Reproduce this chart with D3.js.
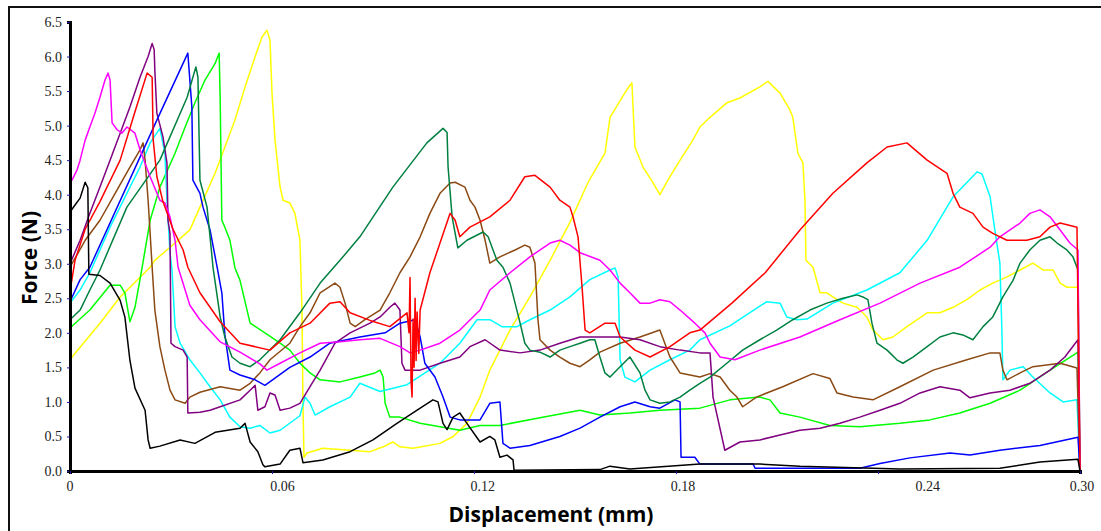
<!DOCTYPE html>
<html>
<head>
<meta charset="utf-8">
<script src="https://cdn.jsdelivr.net/npm/d3@7"></script>
<style>
  body { margin: 0; background: #fff; }
  svg { display: block; }
</style>
</head>
<body>
<svg width="1101" height="531"></svg>
<script>
// force (N) vs displacement (mm)
var blackData = [[0,3.75],[0.0015,3.85],[0.0030,3.95],[0.0045,4.18],[0.0053,4.1],[0.0056,2.85],[0.0089,2.83],[0.0119,2.72],[0.0149,2.47],[0.0163,2.23],[0.0178,1.6],[0.0193,1.2],[0.0223,0.88],[0.0232,0.45],[0.0238,0.33],[0.0267,0.36],[0.0327,0.45],[0.0371,0.4],[0.0431,0.56],[0.0505,0.62],[0.0520,0.69],[0.0535,0.42],[0.0558,0.28],[0.0573,0.09],[0.0579,0.06],[0.0624,0.1],[0.0653,0.3],[0.0683,0.33],[0.0692,0.12],[0.0751,0.16],[0.0832,0.28],[0.0900,0.45],[0.0971,0.69],[0.1031,0.88],[0.1078,1.03],[0.1093,1.0],[0.1108,0.69],[0.1120,0.6],[0.1138,0.78],[0.1158,0.84],[0.1179,0.69],[0.1218,0.42],[0.1247,0.5],[0.1262,0.45],[0.1277,0.2],[0.1298,0.23],[0.1316,0.16],[0.1319,0.01],[0.1574,0.02],[0.1604,0.07],[0.1663,0.03],[0.1871,0.1],[0.2049,0.1],[0.2168,0.07],[0.2465,0.03],[0.2762,0.04],[0.2881,0.13],[0.2994,0.17],[0.3,0]];

var redData = [[0,2.6],[0.0015,3.05],[0.0045,3.5],[0.0089,3.9],[0.0149,4.5],[0.0193,5.2],[0.0229,5.76],[0.0244,5.7],[0.0247,4.8],[0.0258,4.26],[0.0276,3.9],[0.0306,3.5],[0.0336,3.2],[0.0350,2.95],[0.0386,2.58],[0.0446,2.16],[0.0505,1.85],[0.0594,1.75],[0.0653,2.0],[0.0713,2.14],[0.0772,2.43],[0.0802,2.45],[0.0832,2.29],[0.0891,2.18],[0.0950,2.09],[0.1001,2.29],[0.1007,2.0],[0.1010,2.8],[0.1013,1.3],[0.1016,1.07],[0.1019,2.2],[0.1022,1.5],[0.1025,2.5],[0.1028,1.6],[0.1031,2.3],[0.1036,1.7],[0.1040,2.33],[0.1069,2.87],[0.1099,3.3],[0.1129,3.73],[0.1144,3.63],[0.1158,3.39],[0.1188,3.53],[0.1247,3.68],[0.1307,3.92],[0.1351,4.26],[0.1381,4.28],[0.1426,4.11],[0.1455,3.92],[0.1485,3.82],[0.1494,3.68],[0.1509,3.39],[0.1521,2.66],[0.1530,2.04],[0.1544,2.0],[0.1589,2.14],[0.1619,2.14],[0.1634,1.94],[0.1678,1.75],[0.1723,1.65],[0.1782,1.8],[0.1841,2.0],[0.1871,2.04],[0.1966,2.43],[0.2065,2.87],[0.2168,3.49],[0.2266,4.02],[0.2367,4.46],[0.2427,4.69],[0.2486,4.75],[0.2546,4.5],[0.2605,4.31],[0.2623,4.02],[0.2643,3.82],[0.2682,3.73],[0.2712,3.53],[0.2741,3.44],[0.2783,3.34],[0.2842,3.34],[0.2881,3.39],[0.2911,3.53],[0.2941,3.59],[0.2991,3.53],[0.3,0]];

var blueData = [[0,2.45],[0.0030,2.77],[0.0059,2.95],[0.0258,5.08],[0.0350,6.05],[0.0362,5.27],[0.0365,4.21],[0.0386,4.02],[0.0395,3.82],[0.0416,3.49],[0.0437,2.95],[0.0451,2.58],[0.0460,1.97],[0.0475,1.46],[0.0505,1.39],[0.0550,1.32],[0.0579,1.24],[0.0653,1.5],[0.0713,1.65],[0.0772,1.85],[0.0861,1.94],[0.0936,2.0],[0.0980,2.14],[0.1025,2.19],[0.1040,1.94],[0.1054,1.56],[0.1084,1.36],[0.1108,1.07],[0.1129,0.78],[0.1158,0.74],[0.1218,0.74],[0.1247,0.98],[0.1277,1.0],[0.1286,0.4],[0.1307,0.33],[0.1366,0.37],[0.1455,0.5],[0.1515,0.62],[0.1574,0.78],[0.1634,0.93],[0.1678,1.0],[0.1723,0.93],[0.1752,0.91],[0.1797,1.03],[0.1812,1.0],[0.1815,0.2],[0.1856,0.2],[0.1871,0.1],[0.2029,0.1],[0.2035,0.04],[0.2346,0.04],[0.2406,0.11],[0.2495,0.19],[0.2614,0.26],[0.2673,0.23],[0.2762,0.3],[0.2881,0.37],[0.2994,0.49],[0.3,0]];

var limeData = [[0,2.07],[0.0059,2.33],[0.0119,2.69],[0.0149,2.69],[0.0163,2.58],[0.0178,2.16],[0.0193,2.37],[0.0214,2.94],[0.0238,3.63],[0.0267,4.11],[0.0312,4.6],[0.0342,4.98],[0.0371,5.33],[0.0401,5.66],[0.0431,5.9],[0.0443,6.05],[0.0446,5.41],[0.0451,3.63],[0.0460,3.53],[0.0475,3.34],[0.0490,2.94],[0.0505,2.76],[0.0535,2.14],[0.0579,2.0],[0.0624,1.85],[0.0653,1.75],[0.0683,1.56],[0.0713,1.42],[0.0743,1.32],[0.0802,1.29],[0.0861,1.36],[0.0906,1.42],[0.0921,1.46],[0.0930,1.36],[0.0936,0.98],[0.0950,0.78],[0.0980,0.78],[0.1040,0.69],[0.1099,0.64],[0.1158,0.59],[0.1218,0.66],[0.1277,0.66],[0.1396,0.77],[0.1515,0.88],[0.1574,0.81],[0.1663,0.84],[0.1752,0.88],[0.1871,0.91],[0.1960,1.03],[0.2049,1.07],[0.2079,1.03],[0.2109,0.84],[0.2168,0.78],[0.2257,0.66],[0.2346,0.64],[0.2465,0.69],[0.2554,0.74],[0.2643,0.84],[0.2733,0.98],[0.2822,1.17],[0.2911,1.46],[0.2994,1.72],[0.3,0]];

var yellowData = [[0,1.6],[0.0006,1.65],[0.0089,2.14],[0.0149,2.52],[0.0238,2.95],[0.0252,3.05],[0.0312,3.3],[0.0356,3.49],[0.0386,3.82],[0.0431,4.31],[0.0460,4.69],[0.0490,5.08],[0.0520,5.56],[0.0550,6.0],[0.0570,6.28],[0.0585,6.38],[0.0594,6.24],[0.0600,5.47],[0.0609,4.79],[0.0624,4.11],[0.0633,3.92],[0.0653,3.88],[0.0668,3.73],[0.0683,3.34],[0.0689,2.33],[0.0692,0.98],[0.0695,0.2],[0.0704,0.26],[0.0751,0.33],[0.0832,0.3],[0.0891,0.28],[0.0930,0.35],[0.0959,0.42],[0.0980,0.35],[0.1019,0.33],[0.1099,0.4],[0.1138,0.5],[0.1179,0.69],[0.1218,1.07],[0.1247,1.46],[0.1307,2.04],[0.1366,2.52],[0.1426,3.05],[0.1485,3.6],[0.1538,4.17],[0.1589,4.6],[0.1604,5.12],[0.1654,5.52],[0.1669,5.62],[0.1678,4.69],[0.1702,4.4],[0.1732,4.17],[0.1752,4.0],[0.1782,4.26],[0.1812,4.5],[0.1850,4.79],[0.1871,4.98],[0.1901,5.12],[0.1951,5.33],[0.1990,5.4],[0.2049,5.56],[0.2073,5.64],[0.2109,5.47],[0.2138,5.23],[0.2147,5.12],[0.2162,4.6],[0.2177,4.46],[0.2183,3.92],[0.2186,3.05],[0.2207,2.95],[0.2228,2.58],[0.2248,2.58],[0.2266,2.52],[0.2296,2.43],[0.2338,2.37],[0.2367,2.23],[0.2385,2.04],[0.2415,1.9],[0.2444,1.94],[0.2486,2.09],[0.2546,2.29],[0.2584,2.29],[0.2623,2.37],[0.2664,2.48],[0.2703,2.62],[0.2741,2.72],[0.2783,2.81],[0.2822,2.91],[0.2860,3.01],[0.2890,2.91],[0.2920,2.91],[0.2941,2.72],[0.2961,2.66],[0.2994,2.66],[0.3,0]];

var magentaData = [[0,4.2],[0.0006,4.21],[0.0021,4.36],[0.0030,4.5],[0.0045,4.79],[0.0059,4.98],[0.0074,5.18],[0.0089,5.41],[0.0104,5.66],[0.0113,5.76],[0.0119,5.66],[0.0125,5.04],[0.0140,4.94],[0.0154,4.89],[0.0169,4.98],[0.0193,4.89],[0.0208,4.65],[0.0238,4.26],[0.0267,3.92],[0.0282,3.88],[0.0297,3.68],[0.0312,3.34],[0.0321,2.95],[0.0342,2.62],[0.0356,2.4],[0.0386,2.19],[0.0446,1.87],[0.0505,1.72],[0.0564,1.55],[0.0585,1.46],[0.0624,1.56],[0.0683,1.71],[0.0743,1.85],[0.0802,1.87],[0.0861,1.9],[0.0921,1.92],[0.0980,1.8],[0.1010,1.71],[0.1040,1.75],[0.1099,1.85],[0.1158,2.04],[0.1218,2.33],[0.1247,2.62],[0.1307,2.87],[0.1366,3.1],[0.1426,3.3],[0.1455,3.34],[0.1485,3.27],[0.1515,3.16],[0.1574,3.05],[0.1604,2.91],[0.1634,2.72],[0.1663,2.58],[0.1693,2.43],[0.1723,2.43],[0.1752,2.48],[0.1782,2.45],[0.1812,2.33],[0.1856,2.14],[0.1886,2.0],[0.1901,1.85],[0.1931,1.65],[0.1975,1.61],[0.2049,1.75],[0.2168,1.94],[0.2287,2.19],[0.2406,2.43],[0.2525,2.72],[0.2643,2.95],[0.2733,3.24],[0.2762,3.39],[0.2822,3.59],[0.2851,3.73],[0.2881,3.78],[0.2911,3.68],[0.2941,3.49],[0.2970,3.3],[0.2994,3.2],[0.3,0]];

var cyanData = [[0,2.43],[0.0030,2.62],[0.0059,2.87],[0.0119,3.53],[0.0178,4.11],[0.0208,4.4],[0.0238,4.75],[0.0267,4.96],[0.0282,4.6],[0.0288,3.92],[0.0297,3.16],[0.0303,2.91],[0.0312,2.09],[0.0327,1.85],[0.0356,1.61],[0.0386,1.42],[0.0416,1.22],[0.0446,1.03],[0.0475,0.78],[0.0505,0.64],[0.0535,0.62],[0.0564,0.66],[0.0594,0.55],[0.0624,0.59],[0.0683,0.8],[0.0698,1.07],[0.0713,0.98],[0.0728,0.81],[0.0772,0.93],[0.0832,1.07],[0.0861,1.27],[0.0921,1.15],[0.1001,1.25],[0.1099,1.56],[0.1158,1.85],[0.1209,2.19],[0.1247,2.19],[0.1283,2.09],[0.1328,2.09],[0.1366,2.19],[0.1426,2.33],[0.1485,2.52],[0.1544,2.77],[0.1604,2.91],[0.1619,2.94],[0.1628,2.81],[0.1634,1.61],[0.1648,1.36],[0.1678,1.29],[0.1723,1.46],[0.1782,1.61],[0.1841,1.75],[0.1871,1.9],[0.1960,2.1],[0.2069,2.45],[0.2109,2.43],[0.2129,2.23],[0.2159,2.19],[0.2189,2.2],[0.2266,2.43],[0.2367,2.62],[0.2465,2.87],[0.2546,3.34],[0.2623,3.97],[0.2694,4.33],[0.2709,4.3],[0.2733,3.97],[0.2747,3.49],[0.2762,3.01],[0.2768,2.04],[0.2771,1.32],[0.2792,1.46],[0.2831,1.51],[0.2860,1.36],[0.2911,1.13],[0.2950,1.0],[0.2991,1.03],[0.3,0]];

var purpleData = [[0,3.0],[0.0030,3.34],[0.0059,3.73],[0.0089,4.11],[0.0119,4.5],[0.0149,4.89],[0.0178,5.27],[0.0208,5.7],[0.0232,6.0],[0.0244,6.19],[0.0250,6.1],[0.0252,5.8],[0.0258,5.18],[0.0276,4.84],[0.0288,4.46],[0.0291,3.63],[0.0297,3.44],[0.0300,1.85],[0.0312,1.8],[0.0336,1.75],[0.0348,1.65],[0.0350,0.84],[0.0386,0.85],[0.0416,0.88],[0.0446,0.93],[0.0505,1.03],[0.0535,1.17],[0.0550,1.24],[0.0558,0.88],[0.0579,0.93],[0.0594,1.13],[0.0609,1.1],[0.0624,0.88],[0.0653,0.91],[0.0683,0.98],[0.0713,1.22],[0.0743,1.46],[0.0787,1.85],[0.0832,2.0],[0.0891,2.14],[0.0921,2.23],[0.0950,2.37],[0.0965,2.43],[0.0980,2.33],[0.0986,1.56],[0.0995,1.46],[0.1040,1.46],[0.1099,1.56],[0.1158,1.65],[0.1188,1.8],[0.1233,1.9],[0.1277,1.75],[0.1337,1.71],[0.1396,1.75],[0.1455,1.85],[0.1515,1.94],[0.1574,1.94],[0.1634,1.94],[0.1693,1.9],[0.1752,1.8],[0.1812,1.75],[0.1871,1.71],[0.1901,1.71],[0.1910,1.07],[0.1945,0.3],[0.1990,0.42],[0.2049,0.45],[0.2109,0.52],[0.2168,0.59],[0.2228,0.62],[0.2287,0.69],[0.2346,0.78],[0.2406,0.88],[0.2465,0.98],[0.2525,1.13],[0.2584,1.22],[0.2643,1.17],[0.2673,1.06],[0.2733,1.13],[0.2792,1.17],[0.2851,1.27],[0.2911,1.46],[0.2955,1.65],[0.2994,1.9],[0.3,0]];

var brownData = [[0,2.95],[0.0045,3.34],[0.0089,3.63],[0.0134,4.02],[0.0178,4.4],[0.0208,4.65],[0.0217,4.75],[0.0223,4.5],[0.0232,3.92],[0.0238,3.44],[0.0244,2.95],[0.0252,2.33],[0.0267,1.8],[0.0282,1.46],[0.0297,1.17],[0.0312,1.03],[0.0342,0.98],[0.0356,1.07],[0.0386,1.14],[0.0446,1.22],[0.0505,1.17],[0.0535,1.27],[0.0564,1.42],[0.0594,1.61],[0.0653,1.85],[0.0683,2.09],[0.0713,2.29],[0.0743,2.58],[0.0787,2.72],[0.0802,2.66],[0.0817,2.43],[0.0832,2.14],[0.0847,2.09],[0.0876,2.19],[0.0921,2.33],[0.0950,2.58],[0.0980,2.87],[0.1010,3.1],[0.1040,3.39],[0.1069,3.73],[0.1099,4.02],[0.1129,4.17],[0.1144,4.18],[0.1173,4.11],[0.1188,3.92],[0.1203,3.82],[0.1218,3.63],[0.1233,3.34],[0.1247,3.01],[0.1277,3.1],[0.1322,3.2],[0.1351,3.27],[0.1366,3.24],[0.1381,3.01],[0.1390,2.19],[0.1396,1.9],[0.1426,1.75],[0.1455,1.65],[0.1485,1.56],[0.1515,1.51],[0.1544,1.61],[0.1574,1.72],[0.1634,1.85],[0.1693,1.94],[0.1752,2.04],[0.1782,1.65],[0.1812,1.42],[0.1871,1.36],[0.1901,1.41],[0.1931,1.36],[0.1960,1.17],[0.1981,1.07],[0.1998,0.93],[0.2039,1.07],[0.2117,1.22],[0.2207,1.41],[0.2257,1.34],[0.2278,1.13],[0.2326,1.07],[0.2385,1.03],[0.2465,1.22],[0.2564,1.46],[0.2664,1.61],[0.2733,1.71],[0.2762,1.71],[0.2771,1.46],[0.2783,1.32],[0.2822,1.42],[0.2860,1.51],[0.2941,1.56],[0.2991,1.49],[0.3,0]];

var darkGreenData = [[0,2.19],[0.0030,2.33],[0.0059,2.62],[0.0089,2.91],[0.0169,3.82],[0.0267,4.5],[0.0348,5.41],[0.0365,5.7],[0.0374,5.85],[0.0380,5.7],[0.0386,4.21],[0.0407,3.82],[0.0416,3.39],[0.0425,2.94],[0.0446,2.23],[0.0460,1.94],[0.0481,1.65],[0.0505,1.56],[0.0535,1.51],[0.0564,1.61],[0.0624,1.9],[0.0683,2.29],[0.0743,2.72],[0.0802,3.05],[0.0861,3.39],[0.0959,4.11],[0.1060,4.75],[0.1108,4.96],[0.1120,4.9],[0.1123,4.4],[0.1135,3.68],[0.1152,3.23],[0.1179,3.34],[0.1227,3.46],[0.1242,3.39],[0.1268,3.05],[0.1286,2.95],[0.1307,2.72],[0.1322,2.43],[0.1337,2.14],[0.1351,1.85],[0.1366,1.75],[0.1396,1.72],[0.1426,1.65],[0.1455,1.75],[0.1485,1.8],[0.1515,1.85],[0.1544,1.9],[0.1559,1.9],[0.1574,1.65],[0.1589,1.42],[0.1604,1.36],[0.1634,1.51],[0.1663,1.65],[0.1693,1.42],[0.1708,1.17],[0.1723,1.03],[0.1752,0.98],[0.1782,1.0],[0.1812,1.07],[0.1841,1.17],[0.1871,1.27],[0.1901,1.36],[0.1951,1.56],[0.1998,1.75],[0.2049,1.9],[0.2099,2.04],[0.2147,2.19],[0.2198,2.33],[0.2248,2.43],[0.2296,2.5],[0.2338,2.55],[0.2355,2.52],[0.2370,2.48],[0.2382,2.14],[0.2397,1.85],[0.2427,1.75],[0.2456,1.61],[0.2474,1.56],[0.2504,1.65],[0.2546,1.8],[0.2584,1.94],[0.2623,2.0],[0.2652,1.97],[0.2682,1.9],[0.2712,2.09],[0.2741,2.23],[0.2771,2.52],[0.2801,2.76],[0.2822,3.01],[0.2851,3.2],[0.2881,3.34],[0.2911,3.39],[0.2932,3.3],[0.2961,3.2],[0.2979,3.1],[0.2994,2.91],[0.3,0]];

var seriesData = [yellowData, limeData, cyanData, brownData, purpleData, blueData, darkGreenData, magentaData, redData, blackData];
var seriesColors = ["#ffff00", "#00ff00", "#00ffff", "#8b4a14", "#800080", "#0000ff", "#008040", "#ff00ff", "#ff0000", "#000000"];

var yTicks = [0, 0.5, 1, 1.5, 2, 2.5, 3, 3.5, 4, 4.5, 5, 5.5, 6, 6.5];
var xTicks = [0, 0.06, 0.12, 0.18, 0.24, 0.30];
var xTickLabels = ["0", "0.06", "0.12", "0.18", "0.24", "0.30"];
var xLabelPos = [0, 0.0631, 0.1226, 0.1821, 0.2548, 0.3006];

var svg = d3.select("svg");
var margin = { left: 70, right: 21, top: 22, bottom: 60 };
var width = 1101 - margin.left - margin.right;
var height = 531 - margin.top - margin.bottom;

// outer frame (top and left edges visible)
svg.append("rect")
  .attr("x", 9).attr("y", 7)
  .attr("width", 1110).attr("height", 540)
  .attr("fill", "none")
  .attr("stroke", "#111")
  .attr("stroke-width", 2);

var x = d3.scaleLinear().domain([0, 0.3]).range([0, width]);
var y = d3.scaleLinear().domain([0, 6.5]).range([height, 0]);

var g = svg.append("g")
  .attr("transform", "translate(" + margin.left + "," + margin.top + ")");

var line = d3.line()
  .x(function(d) { return x(d[0]); })
  .y(function(d) { return y(d[1]); });

g.selectAll("path.series")
  .data(seriesData)
  .enter()
  .append("path")
  .attr("class", "series")
  .attr("d", line)
  .attr("fill", "none")
  .attr("stroke", function(d, i) { return seriesColors[i]; })
  .attr("stroke-width", 1.5)
  .attr("stroke-linejoin", "round");

// y axis
var yAxis = g.append("g")
  .call(d3.axisLeft(y).tickValues(yTicks).tickFormat(d3.format(".1f")).tickSize(3).tickPadding(5));
yAxis.select(".domain").attr("stroke", "#000").attr("stroke-width", 3);
yAxis.selectAll(".tick line").attr("stroke", "#1a1aa0");
yAxis.selectAll(".tick text")
  .attr("font-family", "'Liberation Serif', serif")
  .attr("font-size", 14)
  .attr("fill", "#222");

// x axis
var xAxis = g.append("g")
  .attr("transform", "translate(0," + height + ")")
  .call(d3.axisBottom(x).tickValues(xTicks).tickFormat("").tickSize(3));
xAxis.select(".domain").attr("stroke", "#000").attr("stroke-width", 3);
xAxis.selectAll(".tick line").attr("stroke", "#1a1aa0");

g.selectAll("text.xlab")
  .data(xTickLabels)
  .enter()
  .append("text")
  .attr("class", "xlab")
  .attr("x", function(d, i) { return x(xLabelPos[i]); })
  .attr("y", height + 20)
  .attr("text-anchor", "middle")
  .attr("font-family", "'Liberation Serif', serif")
  .attr("font-size", 14)
  .attr("fill", "#222")
  .text(function(d) { return d; });

// axis titles
svg.append("text")
  .attr("x", 551)
  .attr("y", 522)
  .attr("text-anchor", "middle")
  .attr("font-family", "'Open Sans', sans-serif")
  .attr("font-weight", "bold")
  .attr("font-size", 21)
  .attr("fill", "#000")
  .text("Displacement (mm)");

svg.append("text")
  .attr("transform", "translate(37,258) rotate(-90)")
  .attr("text-anchor", "middle")
  .attr("font-family", "'Open Sans', sans-serif")
  .attr("font-weight", "bold")
  .attr("font-size", 21)
  .attr("fill", "#000")
  .text("Force (N)");
</script>
</body>
</html>
